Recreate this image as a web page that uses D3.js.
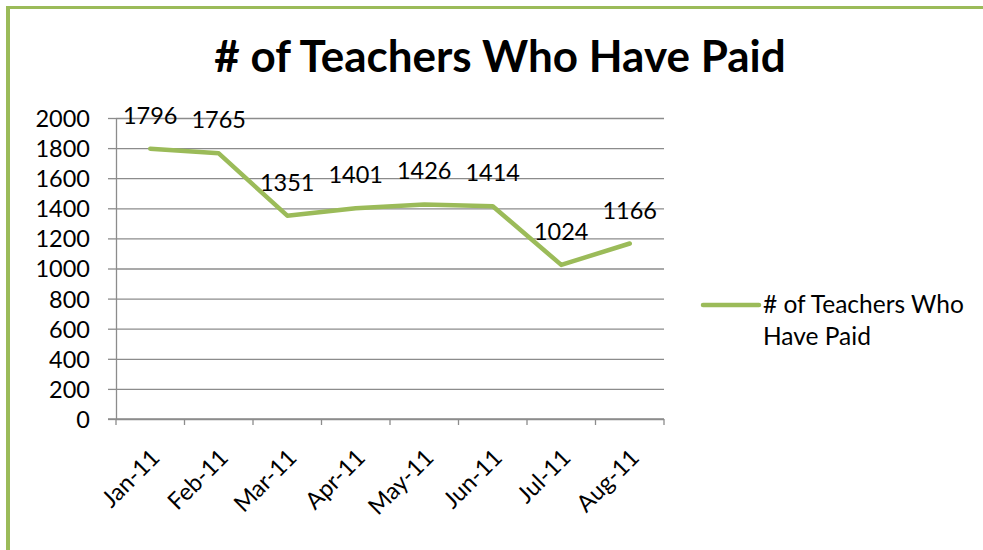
<!DOCTYPE html>
<html>
<head>
<meta charset="utf-8">
<script src="https://cdn.jsdelivr.net/npm/d3@7"></script>
<style>
  body { margin: 0; background: #fff; }
  text { font-family: Lato, "Open Sans", sans-serif; fill: #000; }
  .grid line { stroke: #8c8c8c; stroke-width: 1.3; }
  .grid path { display: none; }
  .axis path, .axis line { stroke: #8c8c8c; stroke-width: 1.3; }
  .line1 { fill: none; stroke: #9bbb59; stroke-width: 4.5; stroke-linejoin: round; stroke-linecap: round; }
</style>
</head>
<body>
<svg id="paid"></svg>
<script>
var months = ["Jan-11", "Feb-11", "Mar-11", "Apr-11", "May-11", "Jun-11", "Jul-11", "Aug-11"];
var paid = [1796, 1765, 1351, 1401, 1426, 1414, 1024, 1166];
var yTicks = [0, 200, 400, 600, 800, 1000, 1200, 1400, 1600, 1800, 2000];
var chartTitle = "# of Teachers Who Have Paid";
var seriesName = ["# of Teachers Who", "Have Paid"];

function drawPaid(svg) {
  var W = 983, H = 550;
  var margin = {top: 118, left: 116},
      width = 548,
      height = 301,
      fs = "23.5px";

  var root = d3.select(svg).attr("width", W).attr("height", H);

  // green frame on the left and top
  root.append("line").attr("x1", 8).attr("x2", W).attr("y1", 7.5).attr("y2", 7.5)
      .attr("stroke", "#9bbb59").attr("stroke-width", 3);
  root.append("line").attr("x1", 8).attr("x2", 8).attr("y1", 6).attr("y2", H)
      .attr("stroke", "#9bbb59").attr("stroke-width", 4);

  root.append("text")
      .attr("x", 500).attr("y", 72)
      .attr("text-anchor", "middle")
      .style("font-size", "44px").style("font-weight", "bold")
      .text(chartTitle);

  var g = root.append("g")
      .attr("transform", "translate(" + margin.left + "," + margin.top + ")");

  var x = d3.scaleBand().domain(months).range([0, width]);
  var y = d3.scaleLinear().domain([0, 2000]).range([height, 0]);

  // gridlines
  g.append("g").attr("class", "grid")
      .call(d3.axisLeft(y).tickValues(yTicks).tickSize(-width).tickFormat(""));

  // y axis
  var ya = g.append("g").attr("class", "axis")
      .call(d3.axisLeft(y).tickValues(yTicks).tickSize(8).tickSizeOuter(0)
        .tickPadding(18).tickFormat(d3.format("d")));
  ya.selectAll("text").style("font-size", fs).attr("dy", "0.36em");

  // x axis
  var xa = g.append("g").attr("class", "axis")
      .attr("transform", "translate(0," + height + ")")
      .call(d3.axisBottom(x).tickSize(0).tickFormat(""));
  xa.select("path").attr("d", "M-8,0H" + width);
  xa.selectAll(".bound").data(d3.range(months.length + 1)).enter().append("line")
      .attr("x1", function(i) { return i * x.step(); })
      .attr("x2", function(i) { return i * x.step(); })
      .attr("y1", 0).attr("y2", 6);

  g.selectAll(".xlab").data(months).enter().append("text")
      .attr("text-anchor", "end")
      .attr("transform", function(d) {
        return "translate(" + (x(d) + x.bandwidth() / 2 + 11) + "," + (height + 40) + ") rotate(-45)";
      })
      .style("font-size", fs)
      .text(function(d) { return d; });

  var line = d3.line()
      .x(function(d, i) { return x(months[i]) + x.bandwidth() / 2; })
      .y(function(d) { return y(d); });

  g.append("path").datum(paid).attr("class", "line1").attr("d", line);

  g.selectAll(".lbl").data(paid).enter().append("text")
      .attr("text-anchor", "middle")
      .attr("x", function(d, i) { return x(months[i]) + x.bandwidth() / 2; })
      .attr("y", function(d) { return y(d) - 25; })
      .style("font-size", fs)
      .text(function(d) { return d; });

  // legend
  var lg = root.append("g").attr("transform", "translate(703,305)");
  lg.append("line").attr("x1", 0).attr("x2", 56).attr("y1", 0).attr("y2", 0)
      .attr("stroke", "#9bbb59").attr("stroke-width", 4.5).attr("stroke-linecap", "round");
  lg.selectAll("text").data(seriesName).enter().append("text")
      .attr("x", 60).attr("y", function(d, i) { return 8 + i * 32; })
      .style("font-size", "24.5px")
      .text(function(d) { return d; });
}

drawPaid(document.querySelector("#paid"));
</script>
</body>
</html>
